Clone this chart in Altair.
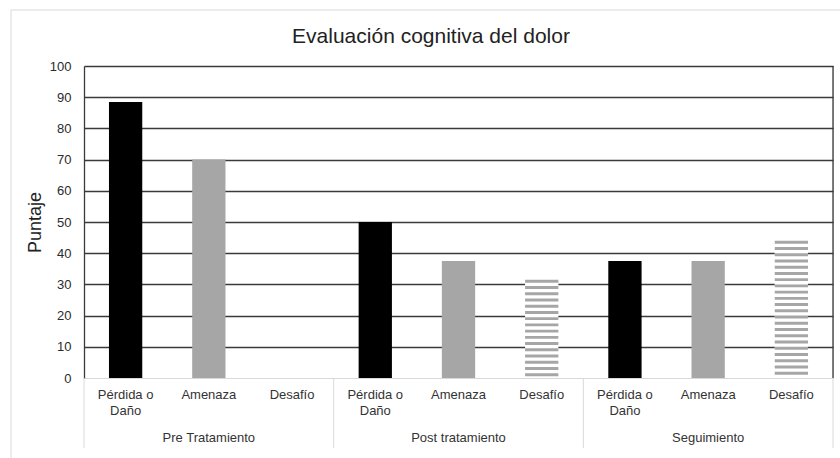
import altair as alt
import pandas as pd

# ---- data ----
title_text = "Evaluación cognitiva del dolor"
groups = ["Pre Tratamiento", "Post tratamiento", "Seguimiento"]
categories = ["Pérdida o Daño", "Amenaza", "Desafío"]
category_labels = ["Pérdida o|Daño", "Amenaza", "Desafío"]  # '|' = line break
perdida = [88.5, 50, 37.5]
amenaza = [70, 37.5, 37.5]
desafio = [0, 31.5, 44]
y_ticks = [0, 10, 20, 30, 40, 50, 60, 70, 80, 90, 100]

series = {"Pérdida o Daño": perdida, "Amenaza": amenaza, "Desafío": desafio}
colors = ["#000000", "#a6a6a6", "#ffffff"]

W, H = 749, 312
FONT = "Liberation Sans"

rows = []
keys = []
for gi, g in enumerate(groups):
    for ci, c in enumerate(categories):
        key = f"{category_labels[ci]}#{gi}"
        keys.append(key)
        rows.append({"key": key, "group": g, "cat": c, "value": series[c][gi]})
df = pd.DataFrame(rows)

# horizontal stripe pattern for the "Desafío" bars (period 2 units, from the top down)
stripe_rows = []
for gi, g in enumerate(groups):
    top = desafio[gi]
    while top > 0:
        stripe_rows.append({"key": f"{category_labels[2]}#{gi}",
                            "y0": max(0, top - 0.95), "y1": top})
        top -= 2.0
df_stripes = pd.DataFrame(stripe_rows)

x_band = alt.X(
    "key:N",
    sort=keys,
    scale=alt.Scale(domain=keys, paddingInner=0.6, paddingOuter=0.3),
    axis=alt.Axis(
        title=None, ticks=False, grid=False, labelAngle=0,
        domainColor="#d9d9d9", domainWidth=1,
        labelFontSize=13, labelColor="#333333", labelPadding=10,
        labelBaseline="top", labelLineHeight=16, labelFont=FONT,
        labelExpr="split(split(datum.value, '#')[0], '|')",
    ),
)

y_scale = alt.Scale(domain=[0, 100], nice=False)
y_axis = alt.Axis(
    values=y_ticks, tickCount=11, labelOverlap=False, grid=True,
    gridColor="#3a3a3a", gridWidth=1.3,
    gridOpacity={"condition": {"test": "datum.value === 0", "value": 0}, "value": 1},
    ticks=False, domain=True, domainColor="#3a3a3a", domainWidth=1.3,
    labelFontSize=13, labelColor="#2b2b2b", labelPadding=13, labelFont=FONT,
    title="Puntaje", titleFontSize=18, titleFontWeight="normal",
    titleColor="#222222", titleFont=FONT, titleAngle=-90,
    titleX=-49, titleY=H / 2, titleAlign="center", titleBaseline="middle",
)

bars = alt.Chart(df).mark_bar().encode(
    x=x_band,
    y=alt.Y("value:Q", scale=y_scale, axis=y_axis),
    color=alt.Color("cat:N", scale=alt.Scale(domain=categories, range=colors), legend=None),
)

stripes = alt.Chart(df_stripes).mark_bar(color="#a6a6a6").encode(
    x=x_band,
    y=alt.Y("y0:Q", scale=y_scale, axis=y_axis),
    y2="y1:Q",
)

# decoration on a linear scale of category slots (0..9)
x_lin = alt.Scale(domain=[0, 9])
sep_df = pd.DataFrame({"pos": [0, 3, 6, 9]})
separators = alt.Chart(sep_df).mark_rule(color="#d9d9d9", strokeWidth=1).encode(
    x=alt.X("pos:Q", scale=x_lin, axis=None),
    y=alt.value(H),
    y2=alt.value(H + 70),
)
right_df = pd.DataFrame({"pos": [9], "lo": [0], "hi": [100]})
right_border = alt.Chart(right_df).mark_rule(color="#3a3a3a", strokeWidth=1.3).encode(
    x=alt.X("pos:Q", scale=x_lin, axis=None),
    y=alt.Y("lo:Q", scale=y_scale, axis=y_axis),
    y2="hi:Q",
)
glab_df = pd.DataFrame({"group": groups, "mid": [1.5, 4.5, 7.5]})
group_labels = alt.Chart(glab_df).mark_text(
    fontSize=13, font=FONT, color="#333333", baseline="middle", align="center"
).encode(
    x=alt.X("mid:Q", scale=x_lin, axis=None),
    y=alt.value(H + 60),
    text="group:N",
)

frame = alt.Chart(pd.DataFrame({"a": [0]})).mark_rect(
    fillOpacity=0, stroke="#d9d9d9", strokeWidth=1
).encode(
    x=alt.value(-73), x2=alt.value(800), y=alt.value(-56), y2=alt.value(420)
)

title = alt.Chart(pd.DataFrame({"t": [title_text]})).mark_text(
    fontSize=21, font=FONT, color="#222222", align="center", baseline="middle"
).encode(
    x=alt.value(347), y=alt.value(-29), text="t:N"
)

chart = alt.layer(
    frame,
    title,
    alt.layer(bars, stripes),
    alt.layer(separators, right_border, group_labels),
).resolve_scale(x="independent").properties(
    width=W,
    height=H,
    autosize=alt.AutoSizeParams(type="none"),
    padding={"left": 84, "top": 66, "right": 7, "bottom": 80},
    background="white",
).configure_view(strokeWidth=0).configure(font=FONT)

chart.save("out.html", embed_options={"renderer": "svg", "actions": False})
